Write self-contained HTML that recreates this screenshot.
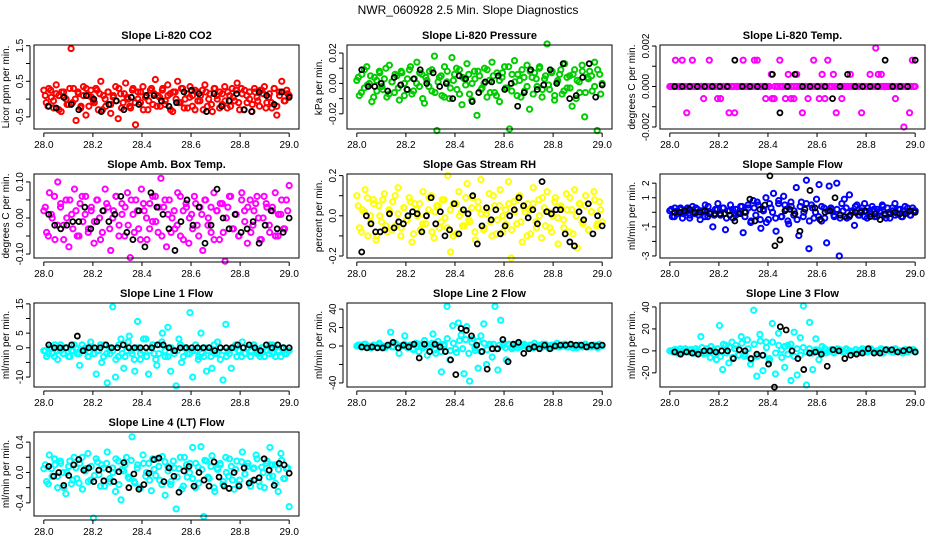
<!DOCTYPE html>
<html><head><meta charset="utf-8"><style>
html,body{margin:0;padding:0;background:#fff;}
svg{display:block;font-family:"Liberation Sans",sans-serif;}
</style></head><body>
<svg id="chart" width="936" height="540" viewBox="0 0 936 540">
<text x="468" y="14" text-anchor="middle" font-size="12">NWR_060928  2.5 Min. Slope Diagnostics</text>
</svg>
<script>
const co2Vals=[0.25,-0.1,0.3,0.05,-0.25,0.4,0.1,-0.35,0.2,0.0,-0.15,1.42,0.3,-0.6,0.15,-0.2,0.35,-0.45,0.1,0.25,-0.05,0.3,-0.3,0.5,0.1,-0.2,0.2,-0.4,0.05,0.35,-0.55,0.15,-0.1,0.45,0.0,-0.25,0.3,-0.72,0.2,-0.1,0.35,0.05,-0.3,0.25,-0.15,0.55,0.1,-0.2,0.3,-0.05,0.4,0.15,-0.35,0.2,0.5,-0.1,0.3,0.0,-0.25,0.35,0.1,-0.3,0.2,-0.05,0.25,0.4,-0.2,0.15,-0.35,0.3,0.0,0.2,-0.15,0.35,-0.25,0.1,0.3,-0.05,0.45,-0.3,0.15,0.25,-0.1,0.2,-0.35,0.3,0.05,-0.2,0.25,0.35,-0.1,0.15,-0.25,0.3,-0.45,0.2,0.5,-0.05,0.25,0.1];
const co2ValsB=[0.1,-0.2,0.25,-0.05,0.15,-0.3,0.2,0.05,-0.15,0.3,-0.1,0.0,0.2,-0.25,0.1,0.3,-0.2,0.05,-0.1,0.25,0.15,-0.3,0.0,0.2,-0.15,0.1,-0.05,0.3,-0.25,0.15,0.05,-0.2,0.25,-0.1,0.0,0.2,-0.3,0.1,-0.05,0.3,0.15,-0.2,0.05,0.25,-0.15,0.1,-0.3,0.2,0.0,-0.1,0.3,-0.25,0.15,0.05,-0.2,0.25,-0.05,0.1,-0.3,0.2,0.0,-0.15,0.3,0.1,-0.25,0.15,-0.05,0.2,-0.2,0.05,0.25,-0.1,0.3,-0.3,0.1,0.0,-0.15,0.2,-0.05,0.25,0.15,-0.25,0.05,-0.1,0.3,-0.2,0.1,0.2,-0.05,0.15];
const co2Ref=[-0.2,-0.25,0.05,-0.15,-0.3,0.1,0.0,-0.35,-0.15,-0.05,-0.3,0.05,-0.15,0.1,0.1,-0.05,-0.2,-0.1,0.2,0.25,0.15,-0.35,0.15,-0.2,-0.05,0.15,-0.3,-0.35,0.2,0.1,-0.15,0.2,0.05];
const presVals=[0.002,-0.008,0.006,-0.003,0.011,0.0,-0.012,0.004,-0.005,0.008,-0.002,0.003,-0.009,0.012,0.001,-0.006,0.005,-0.011,0.007,0.0,-0.004,0.009,-0.007,0.003,0.014,-0.002,0.006,-0.013,0.002,0.008,-0.005,0.018,-0.031,0.004,-0.008,0.011,0.001,-0.01,0.017,0.006,-0.004,0.009,-0.014,0.003,0.013,-0.007,0.0,0.008,-0.021,0.005,-0.003,0.01,-0.009,0.002,0.014,-0.006,0.007,-0.012,0.004,0.011,-0.003,-0.03,0.006,0.015,-0.008,0.002,0.009,-0.005,0.012,-0.017,0.004,0.007,-0.002,0.011,-0.009,0.003,0.026,-0.004,0.008,-0.011,0.001,0.006,-0.007,0.013,-0.003,0.005,-0.015,0.009,0.002,-0.006,0.012,-0.022,0.004,0.008,-0.005,0.014,-0.031,0.006,0.0];
const presValsB=[0.004,-0.006,0.009,-0.001,0.005,-0.009,0.002,0.007,-0.004,0.01,-0.007,0.001,0.006,-0.003,0.008,-0.008,0.003,0.011,-0.005,0.0,0.007,-0.01,0.004,-0.002,0.009,-0.006,0.001,0.005,-0.009,0.008,-0.003,0.002,0.01,-0.007,0.004,-0.001,0.006,-0.011,0.003,0.008,-0.004,0.0,0.009,-0.006,0.005,-0.008,0.002,0.007,-0.003,0.011,-0.005,0.001,0.006,-0.009,0.004,-0.002,0.008,-0.007,0.003,0.01,-0.004,0.005,-0.001,0.007,-0.008,0.002,0.009,-0.005,0.004,-0.003,0.006,-0.01,0.001,0.008,-0.006,0.003,0.005,-0.002,0.009,-0.007];
const presRef=[0.009,-0.002,-0.002,0.0,-0.005,0.004,-0.001,-0.004,0.003,0.009,0.0,0.007,-0.002,0.0,-0.01,0.005,0.003,-0.012,-0.006,0.001,0.001,0.005,-0.004,0.0,-0.015,-0.006,0.009,-0.004,-0.001,0.009,0.0,0.013,-0.01,-0.008,0.004,0.013,-0.009,-0.001];
const tempVals=[0,0,0.0013,0,0,0,-0.0013,0,0.0013,0,0,0,-0.0006,0,0.0013,0,0,0,-0.0006,0,0,-0.0013,0,-0.0013,0,0,0.0013,0,0,0,0.0013,0.0013,0,0,-0.0006,0,0.0006,-0.0006,0,0.0013,0,-0.0006,0.0006,-0.0006,0,0.0006,0,-0.0013,0,-0.0006,0,0.0013,0,-0.0006,0.0006,-0.0006,0.0013,0,0.0006,-0.0013,0,-0.0006,0,0,0.0006,0,0,0,-0.0013,0,0,0.0006,0,0.0019,0,0.0006,0,0,0,0,-0.0006,0,0,-0.002,0,-0.0013,0.0013,0];
const tempValsB=[0,0,0,0,0.0013,0,0,0,0,0,0,0,0,0,0,0,0,-0.0006,0,0,0,0,0,0,0,0,0,0,0,0,0,0,0,0,0,0,0,-0.0006,0,0,0,0,0,0,0,-0.0006,0,0,0,0,0,0,0,0,0,0,0,0,0,0,0,0,0,0,0,0,0,0,0,0,0,0,0,0,0,0,0.0006,0,0,0,0,0,0,0,0,0,0,0,0,0];
const tempRef=[0,0,0,0,0,0,0,0,0.0013,0,0,0,0,0.0006,-0.0013,0,0.0006,0,0,0,0,-0.0006,0,0.0006,0,0,0,0,0.0013,0,0,0,0.0013];
const ambVals=[0.02,-0.04,0.07,0.0,-0.06,0.10,0.03,-0.02,0.05,-0.08,0.01,0.08,-0.05,0.04,-0.01,0.06,-0.03,0.02,-0.07,0.05,0.0,-0.04,0.08,0.03,-0.09,0.02,0.06,-0.02,0.04,-0.05,0.07,-0.11,0.01,0.05,-0.03,0.08,0.02,-0.06,0.04,-0.01,0.06,-0.04,0.11,0.03,-0.08,0.05,0.0,-0.03,0.07,-0.05,0.02,0.04,-0.07,0.01,0.06,-0.02,0.03,-0.09,0.05,0.0,-0.04,0.07,0.02,-0.06,0.04,-0.12,0.03,0.06,-0.03,0.01,-0.05,0.07,0.02,-0.07,0.05,-0.02,0.04,0.0,-0.06,0.06,0.03,-0.04,0.02,0.07,-0.05,0.01,-0.03,0.05,0.09];
const ambValsB=[0.03,-0.05,0.01,0.06,-0.02,0.04,-0.06,0.0,0.05,-0.03,0.02,-0.05,0.06,0.01,-0.04,0.03,-0.01,0.05,-0.06,0.02,0.04,-0.03,0.0,0.06,-0.05,0.01,0.03,-0.02,0.05,-0.04,0.02,-0.06,0.04,0.0,-0.03,0.06,-0.01,0.03,-0.05,0.05,0.01,-0.04,0.02,-0.02,0.06,-0.06,0.03,0.0,-0.03,0.04,-0.05,0.01,0.05,-0.02,0.03,-0.06,0.02,0.04,-0.04,0.0,0.06,-0.03,0.01,-0.05,0.05,-0.01,0.03,-0.04,0.02,0.06,-0.06,0.0,0.04,-0.02,0.03,-0.05,0.01,0.05,-0.03,0.02];
const ambRef=[0.01,-0.02,-0.03,-0.02,-0.01,-0.01,0.03,-0.03,-0.01,0.02,-0.01,0.01,0.06,-0.04,-0.06,0.02,-0.08,0.07,0.03,0.01,-0.03,-0.09,-0.01,0.05,-0.02,0.03,-0.07,-0.02,0.08,0.0,-0.03,0.01,-0.04,-0.03,-0.01,-0.07,-0.02,0.02,-0.03,-0.04,0.0];
const rhVals=[0.1,-0.06,0.03,0.13,-0.1,0.0,0.08,-0.12,0.05,-0.03,0.11,-0.08,0.02,0.07,-0.05,0.14,-0.1,0.04,-0.02,0.09,-0.13,0.06,0.0,-0.07,0.12,-0.04,0.03,0.1,-0.11,0.05,-0.06,0.08,-0.01,0.2,-0.18,0.06,-0.09,0.12,0.02,-0.05,0.16,-0.03,0.09,-0.12,0.04,0.18,-0.07,0.01,0.11,-0.1,0.05,-0.02,0.13,-0.08,0.03,0.17,-0.21,0.07,-0.04,0.1,-0.13,0.02,0.06,-0.09,0.14,-0.03,0.08,-0.11,0.04,0.12,-0.06,0.0,0.09,-0.14,0.05,-0.02,0.11,-0.08,0.03,0.13,-0.16,0.06,-0.04,0.1,-0.07,0.02,0.12,-0.05,0.07,-0.03];
const rhValsB=[0.05,-0.08,0.02,0.09,-0.03,0.06,-0.1,0.0,0.08,-0.05,0.03,-0.07,0.1,0.01,-0.06,0.04,-0.02,0.07,-0.09,0.03,0.06,-0.04,0.0,0.09,-0.08,0.02,0.05,-0.03,0.08,-0.06,0.03,-0.1,0.06,0.0,-0.05,0.09,-0.02,0.04,-0.08,0.07,0.01,-0.06,0.03,-0.03,0.1,-0.09,0.05,0.0,-0.04,0.06,-0.07,0.02,0.08,-0.03,0.04,-0.1,0.03,0.06,-0.06,0.0,0.09,-0.05,0.02,-0.08,0.07,-0.01,0.04,-0.06,0.03,0.09,-0.09,0.0,0.06,-0.03,0.05,-0.07,0.02,0.08,-0.04,0.03];
const rhRef=[-0.18,0.0,-0.04,-0.08,-0.08,-0.07,0.01,-0.06,-0.03,-0.04,0.0,0.02,0.01,-0.08,0.0,0.09,-0.04,0.02,-0.1,-0.07,0.06,-0.09,0.03,0.01,0.1,-0.14,-0.05,0.04,-0.02,0.03,-0.09,-0.05,0.0,0.03,0.09,0.05,-0.01,0.03,-0.04,0.17,0.02,0.01,0.03,0.03,-0.09,-0.13,-0.15,0.02,-0.02,0.06,-0.09,0.0,-0.05];
const sampVals=[0.1,-0.3,0.3,-0.1,0.2,-0.4,0.0,0.3,-0.2,0.4,-0.1,0.2,-0.5,0.1,0.5,-0.3,0.0,-1.0,0.2,0.6,-0.2,0.3,-1.2,0.1,0.5,-0.4,0.2,-0.1,0.4,-1.4,0.0,0.3,-0.7,0.8,-0.2,0.5,-1.1,0.1,1.0,-0.5,0.3,1.3,-1.3,0.6,-0.3,1.1,0.2,-0.8,0.4,-0.2,1.7,-1.6,0.7,0.0,2.2,-2.5,0.5,-0.4,0.9,1.9,-0.6,0.3,-2.1,1.8,0.2,-0.3,2.0,-3.0,0.6,0.9,-0.4,1.2,0.1,-0.9,0.5,-0.2,0.3,0.6,-0.4,0.1,0.4,-0.3,0.2,0.0,0.5,-0.2,0.3,-0.4,0.1,0.6,-0.1,0.2,-0.3,0.4,0.0,-0.2,0.3,0.1];
const sampValsB=[0.2,-0.3,0.1,0.3,-0.1,0.2,-0.4,0.0,0.3,-0.2,0.1,-0.3,0.4,0.0,-0.2,0.2,-0.1,0.3,-0.4,0.1,0.2,-0.2,0.0,0.4,-0.3,0.5,-0.6,0.3,0.7,-0.5,0.2,-0.7,0.6,0.0,-0.4,0.8,-0.3,0.5,-0.6,0.7,0.1,-0.5,0.4,-0.3,0.6,-0.6,0.3,0.0,-0.3,0.4,-0.4,0.1,0.3,-0.2,0.2,-0.4,0.1,0.3,-0.3,0.0,0.4,-0.2,0.1,-0.3,0.3,-0.1,0.2,-0.3,0.1,0.4,-0.4,0.0,0.3,-0.2,0.2,-0.3,0.1,0.3,-0.2,0.1];
const sampRef=[0.0,0.0,0.1,0.2,0.0,0.0,0.1,-0.1,-0.1,-0.1,-0.1,-0.2,-0.6,-0.1,0.0,0.9,-0.6,0.2,0.5,2.5,-2.3,-1.9,0.1,0.2,-0.1,-1.3,0.2,1.5,0.3,-0.5,0.0,0.1,1.0,-0.2,-0.3,-0.2,0.0,0.0,0.1,-0.3,-0.1,-0.5,-0.1,-0.1,0.0,-0.1,-0.1,0.1,0.0];
const l1Vals=[-1,-3,0,-2,1,-4,-1,-2,0,-3,-1,1,-2,-6,-1,0,-3,2,-2,-9,-1,-5,1,-12,-2,14,-10,-3,3,-7,-1,4,-2,-8,9,-4,-1,3,-9,0,-2,-6,1,5,-3,7,-8,-1,-13,3,-5,0,-2,12,-10,-1,-4,5,-3,-8,0,-7,-2,2,-4,-11,8,-1,-7,0,-3,-1,2,-2,0,-3,1,-1,-2,0,-3,-1,1,-2,0,-1,-3,0,-2,-1];
const l1ValsB=[-1,-2,0,-3,-1,1,-2,0,-3,-1,0,-2,1,-1,-3,0,-2,-1,1,-3,-2,0,-1,-4,1,-2,-3,2,-1,-4,0,-2,3,-3,-1,1,-4,-2,2,-1,-3,0,-2,-1,1,-3,0,-2,-1,1,-3,-2,0,-1,-3,1,-2,0,-1,-3,-2,0,1,-1,-3,-2,0,-1,1,-2,-3,0,-1,-2,1,-3,-1,0,-2,-1];
const l1Ref=[1,0,0,0,1,4,-1,0,0,0,1,0,0,1,0,0,0,0,0,1,1,0,-1,0,0,0,0,0,0,-1,0,0,0,1,0,1,0,-1,1,0,1,0,0];
const l2Vals=[0,1,-1,2,0,-2,1,-1,3,0,-2,1,15,-1,2,-8,0,11,-2,1,-4,3,-6,0,6,-10,2,13,-8,1,-28,0,43,-15,22,-3,25,12,-30,21,-38,8,-5,-24,11,24,-20,2,-12,43,-26,28,3,-15,1,-3,0,2,-1,1,0,-2,1,3,0,-1,2,0,-2,1,0,3,-1,0,2,-1,1,0,-2,1,0,2,-1,0,1,-1,2,0];
const l2ValsB=[1,-1,2,0,-2,1,-1,2,-2,0,1,-1,3,-2,0,2,-1,1,-3,0,2,-2,1,-1,3,-4,5,-6,2,8,-5,3,-7,6,-3,7,-8,4,-2,5,-6,3,-4,1,2,-3,1,0,-2,2,-1,1,-2,0,2,-1,1,-2,0,1,-1,2,0,-2,1,-1,0,2,-1,1,-2,0,1,-1,2,0,-1,1,-2,0];
const l2Ref=[-1,-2,-1,-2,-2,1,4,-2,1,-1,2,-13,2,-6,2,-1,-6,-15,-31,19,17,11,1,-6,-25,-3,-3,7,-17,2,4,-8,-3,-1,-3,1,-3,0,1,1,2,1,1,-1,1,0,1];
const l3Vals=[0,-1,1,-2,0,2,-1,1,-2,0,13,-3,2,-6,1,-8,23,-17,5,-11,8,2,-4,13,-5,10,-12,37,-23,15,-18,8,-9,25,-21,16,1,-15,5,-27,17,-22,12,41,-31,26,-17,11,-8,4,-2,0,1,-1,2,0,-1,1,0,-2,1,0,2,-1,0,1,-1,0,2,-1,1,0,-1,1,0,-2,1,0,1,-1];
const l3ValsB=[0,1,-2,2,-1,0,1,-2,2,-1,3,-2,0,4,-3,2,-5,6,-2,3,-6,5,-4,7,-3,2,-8,6,-5,9,-4,3,-7,8,-2,5,-6,4,-3,6,-5,2,-4,3,-1,2,-2,1,0,-1,2,-1,1,-2,0,1,-1,2,0,-1,1,-2,0,1,-1,2,-1,0,1,-2,1,0,-1,2,-1,0,1,-1,0,1];
const l3Ref=[-1,-3,-1,-2,-3,0,0,-1,0,0,-7,1,0,-7,-3,-4,-12,-33,22,19,0,-7,-17,-2,-1,-3,-14,1,0,-7,-4,-3,-2,2,-2,-2,1,1,-1,0,1,-1];
const l4Vals=[0.05,-0.12,0.23,-0.05,0.1,-0.2,0.15,0.0,-0.28,0.08,-0.15,0.2,-0.08,0.12,-0.22,0.05,0.25,-0.1,-0.6,0.18,-0.03,0.1,-0.18,0.27,-0.12,0.06,-0.25,0.15,-0.36,0.02,0.2,-0.08,0.47,-0.14,0.1,-0.2,0.23,-0.05,0.12,-0.24,0.04,0.18,-0.1,0.21,-0.3,0.08,-0.16,0.15,-0.48,0.05,-0.22,0.2,-0.06,0.12,0.33,-0.2,0.07,0.34,-0.58,0.15,-0.08,0.22,-0.25,0.04,0.1,-0.16,0.2,-0.05,0.08,-0.22,0.15,-0.1,0.27,-0.02,0.12,-0.18,0.05,0.23,-0.12,0.07,-0.2,0.15,0.33,-0.05,0.1,-0.25,0.25,-0.08,0.05,-0.45];
const l4ValsB=[0.1,-0.15,0.05,0.18,-0.05,0.12,-0.2,0.0,0.15,-0.1,0.06,-0.14,0.2,0.02,-0.12,0.08,-0.04,0.14,-0.18,0.06,0.12,-0.08,0.0,0.18,-0.16,0.04,0.1,-0.06,0.16,-0.12,0.06,-0.2,0.12,0.0,-0.1,0.18,-0.04,0.08,-0.16,0.14,0.02,-0.12,0.06,-0.06,0.2,-0.18,0.1,0.0,-0.08,0.12,-0.14,0.04,0.16,-0.06,0.08,-0.2,0.06,0.12,-0.12,0.0,0.18,-0.1,0.04,-0.16,0.14,-0.02,0.08,-0.12,0.06,0.18,-0.18,0.0,0.12,-0.06,0.1,-0.14,0.04,0.16,-0.08,0.06];
const l4Ref=[0.08,-0.05,0.0,-0.17,-0.04,0.1,0.17,0.03,0.06,-0.12,0.03,-0.11,0.04,-0.12,0.01,0.13,-0.2,-0.02,-0.22,-0.16,-0.01,0.17,0.19,-0.12,0.06,-0.05,-0.26,0.02,0.08,-0.18,0.0,-0.1,-0.18,0.14,-0.06,-0.18,-0.21,0.0,-0.18,0.06,-0.14,-0.1,-0.07,0.18,0.03,-0.17,0.12,0.1,-0.01];
const xTicks=[28.0,28.2,28.4,28.6,28.8,29.0];
const xTickLabels=["28.0","28.2","28.4","28.6","28.8","29.0"];

const NS="http://www.w3.org/2000/svg";
const svg=document.getElementById('chart');
const W=265,H=84,lefts=[34,347,660],tops=[45,174,303,432];
const panels=[
 {t:"Slope Li-820 CO2",yt:"Licor ppm per min.",v:co2Vals,v2:co2ValsB,r:co2Ref,c:"#ff0000",ylo:-0.84,yhi:1.52,ticks:[-0.5,0,0.5,1,1.5],labs:{"-0.5":"-0.5","0.5":"0.5","1.5":"1.5"},slug:"co2"},
 {t:"Slope Li-820 Pressure",yt:"kPa per min.",v:presVals,v2:presValsB,r:presRef,c:"#00cc00",ylo:-0.030,yhi:0.0253,ticks:[-0.02,-0.01,0,0.01,0.02],labs:{"-0.02":"-0.02","0":"0.00","0.02":"0.02"},slug:"pressure"},
 {t:"Slope Li-820 Temp.",yt:"degrees C per min.",v:tempVals,v2:tempValsB,r:tempRef,c:"#ff00ff",ylo:-0.0021,yhi:0.00205,ticks:[-0.002,-0.001,0,0.001,0.002],labs:{"-0.002":"-0.002","0":"0.000","0.002":"0.002"},slug:"temp"},
 {t:"Slope Amb. Box Temp.",yt:"degrees C per min.",v:ambVals,v2:ambValsB,r:ambRef,c:"#ff00ff",ylo:-0.111,yhi:0.122,ticks:[-0.1,-0.05,0,0.05,0.1],labs:{"-0.1":"-0.10","0":"0.00","0.1":"0.10"},slug:"amb-temp"},
 {t:"Slope Gas Stream RH",yt:"percent per min.",v:rhVals,v2:rhValsB,r:rhRef,c:"#ffff00",ylo:-0.21,yhi:0.208,ticks:[-0.2,-0.1,0,0.1,0.2],labs:{"-0.2":"-0.2","0":"0.0","0.2":"0.2"},slug:"rh"},
 {t:"Slope Sample Flow",yt:"ml/min per min.",v:sampVals,v2:sampValsB,r:sampRef,c:"#0000ff",ylo:-3.14,yhi:2.63,ticks:[-3,-2,-1,0,1,2],labs:{"-3":"-3","-1":"-1","1":"1","2":"2"},slug:"sample-flow"},
 {t:"Slope Line 1 Flow",yt:"ml/min per min.",v:l1Vals,v2:l1ValsB,r:l1Ref,c:"#00ffff",ylo:-13.4,yhi:15.3,ticks:[-10,-5,0,5,10,15],labs:{"-10":"-10","0":"0","5":"5","15":"15"},slug:"line1"},
 {t:"Slope Line 2 Flow",yt:"ml/min per min.",v:l2Vals,v2:l2ValsB,r:l2Ref,c:"#00ffff",ylo:-44.4,yhi:46.6,ticks:[-40,-20,0,20,40],labs:{"-40":"-40","0":"0","20":"20","40":"40"},slug:"line2"},
 {t:"Slope Line 3 Flow",yt:"ml/min per min.",v:l3Vals,v2:l3ValsB,r:l3Ref,c:"#00ffff",ylo:-32.9,yhi:43.6,ticks:[-20,0,20,40],labs:{"-20":"-20","0":"0","20":"20","40":"40"},slug:"line3"},
 {t:"Slope Line 4 (LT) Flow",yt:"ml/min per min.",v:l4Vals,v2:l4ValsB,r:l4Ref,c:"#00ffff",ylo:-0.573,yhi:0.533,ticks:[-0.4,-0.2,0,0.2,0.4],labs:{"-0.4":"-0.4","0":"0.0","0.4":"0.4"},slug:"line4"}
];
function mk(tag,attrs,parent){const e=document.createElementNS(NS,tag);for(const k in attrs)e.setAttribute(k,attrs[k]);(parent||svg).appendChild(e);return e;}
panels.forEach((p,i)=>{
 const L=lefts[i%3],T=tops[Math.floor(i/3)];
 const g=mk('g',{});
 
 
 const xs=v=>L+(v-27.96)/1.08*W;
 const ys=v=>T+H-(v-p.ylo)/(p.yhi-p.ylo)*H;
 const tt=mk('text',{x:L+W/2,y:T-6,'text-anchor':'middle','font-size':11,'font-weight':'bold'},g);tt.textContent=p.t;
 
 
 const yt=mk('text',{x:0,y:0,'text-anchor':'middle','font-size':10,transform:`translate(${L-25},${T+H/2}) rotate(-90)`},g);yt.textContent=p.yt;
 
 
 const pts=mk('g',{fill:'none','stroke-width':2},g);
 
 
 p.v2.forEach((v,j)=>{const c=mk('circle',{cx:xs(28.006+0.988*j/(p.v2.length-1)),cy:ys(v),r:2.6,stroke:p.c},pts);
  
  });
 p.v.forEach((v,j)=>{const c=mk('circle',{cx:xs(28+j/(p.v.length-1)),cy:ys(v),r:2.6,stroke:p.c},pts);
  
  });
 const rp=mk('g',{fill:'none','stroke-width':1.8},g);
 
 
 p.r.forEach((v,j)=>{const c=mk('circle',{cx:xs(28.02+0.98*j/(p.r.length-1)),cy:ys(v),r:2.5,stroke:'#000'},rp);
  
  });
 const box=mk('rect',{x:L,y:T,width:W,height:H,fill:'none',stroke:'#000','stroke-width':1},g);
 
 
 const xa=mk('g',{stroke:'#000'},g);
 
 
 mk('line',{x1:xs(xTicks[0]),x2:xs(xTicks[xTicks.length-1]),y1:T+H+4,y2:T+H+4},xa);
 xTicks.forEach((t,k)=>{mk('line',{x1:xs(t),x2:xs(t),y1:T+H+4,y2:T+H+8},xa);
  const tl=mk('text',{x:xs(t),y:T+H+19,'text-anchor':'middle','font-size':10,stroke:'none'},xa);tl.textContent=xTickLabels[k];
  
  });
 const ya=mk('g',{stroke:'#000'},g);
 
 
 mk('line',{x1:L-4,x2:L-4,y1:ys(p.ticks[0]),y2:ys(p.ticks[p.ticks.length-1])},ya);
 p.ticks.forEach(t=>{mk('line',{x1:L-8,x2:L-4,y1:ys(t),y2:ys(t)},ya);
  const lab=p.labs[String(t)];
  if(lab!==undefined){const tl=mk('text',{x:0,y:0,'text-anchor':'middle','font-size':10,stroke:'none',transform:`translate(${L-11},${ys(t)}) rotate(-90)`},ya);tl.textContent=lab;
   
   }});
});
</script>
</body></html>
